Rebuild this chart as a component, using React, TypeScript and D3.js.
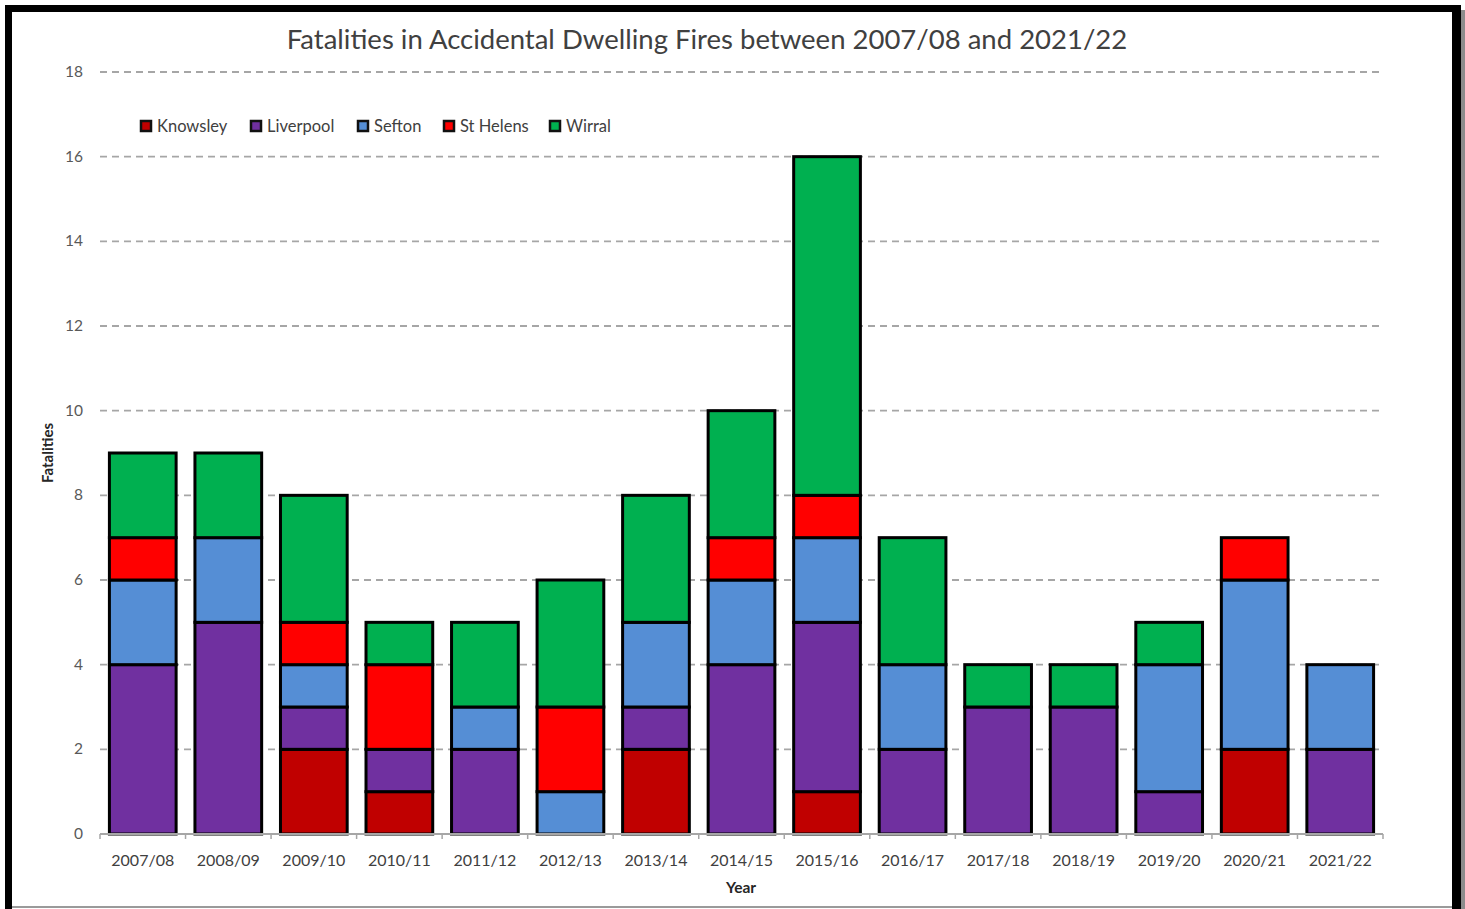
import React, { useEffect, useRef } from 'react';
import * as d3 from 'd3';

const years = ['2007/08', '2008/09', '2009/10', '2010/11', '2011/12', '2012/13', '2013/14', '2014/15', '2015/16', '2016/17', '2017/18', '2018/19', '2019/20', '2020/21', '2021/22'];

const knowsley = [0, 0, 2, 1, 0, 0, 2, 0, 1, 0, 0, 0, 0, 2, 0];
const liverpool = [4, 5, 1, 1, 2, 0, 1, 4, 4, 2, 3, 3, 1, 0, 2];
const sefton = [2, 2, 1, 0, 1, 1, 2, 2, 2, 2, 0, 0, 3, 4, 2];
const stHelens = [1, 0, 1, 2, 0, 2, 0, 1, 1, 0, 0, 0, 0, 1, 0];
const wirral = [2, 2, 3, 1, 2, 3, 3, 3, 8, 3, 1, 1, 1, 0, 0];

const seriesNames = ['Knowsley', 'Liverpool', 'Sefton', 'St Helens', 'Wirral'];
const seriesColors = ['#C00000', '#7030A0', '#558ED5', '#FF0000', '#00B050'];
const yTicks = [0, 2, 4, 6, 8, 10, 12, 14, 16, 18];

const W = 1465;
const H = 909;
const FONT = 'Lato, "Open Sans", sans-serif';

const App: React.FC = () => {
  const svgRef = useRef<SVGSVGElement>(null);

  useEffect(() => {
    if (!svgRef.current) return;
    const svg = d3.select(svgRef.current);
    svg.selectAll('*').remove();

    const left = 100, right = 1383, top = 72, bottom = 834;

    const x = d3.scaleBand<string>().domain(years).range([left, right]).paddingInner(0.22).paddingOuter(0.11);
    const y = d3.scaleLinear().domain([0, 18]).range([bottom, top]);

    // frame
    svg.append('rect').attr('x', 0).attr('y', 0).attr('width', W).attr('height', H).attr('fill', '#fff');
    svg.append('rect').attr('x', 1460).attr('y', 10).attr('width', 5).attr('height', H).attr('fill', '#8c8c8c');
    svg.append('line').attr('x1', 12).attr('x2', 1452).attr('y1', 907).attr('y2', 907).attr('stroke', '#9a9a9a').attr('stroke-width', 2);
    svg.append('rect').attr('x', 5).attr('y', 5).attr('width', 7).attr('height', H).attr('fill', '#000');
    svg.append('rect').attr('x', 5).attr('y', 5).attr('width', 1456).attr('height', 7).attr('fill', '#000');
    svg.append('rect').attr('x', 1452).attr('y', 5).attr('width', 9).attr('height', H).attr('fill', '#000');

    // title
    svg.append('text')
      .attr('x', 707).attr('y', 49)
      .attr('text-anchor', 'middle')
      .style('font-family', FONT).style('font-size', '27.5px').style('fill', '#404040')
      .text('Fatalities in Accidental Dwelling Fires between 2007/08 and 2021/22');

    // gridlines
    svg.append('g').selectAll('line')
      .data(yTicks.filter(t => t > 0))
      .enter().append('line')
      .attr('x1', left).attr('x2', right)
      .attr('y1', d => y(d)).attr('y2', d => y(d))
      .attr('stroke', '#a6a6a6').attr('stroke-width', 1.8).attr('stroke-dasharray', '7,5');

    // y tick labels
    svg.append('g').selectAll('text')
      .data(yTicks)
      .enter().append('text')
      .attr('x', 83).attr('y', d => y(d) + 5)
      .attr('text-anchor', 'end')
      .style('font-family', FONT).style('font-size', '15.5px').style('fill', '#595959')
      .text(d => d);

    // stacked bars
    const table = years.map((yr, i) => ({
      year: yr,
      Knowsley: knowsley[i],
      Liverpool: liverpool[i],
      Sefton: sefton[i],
      'St Helens': stHelens[i],
      Wirral: wirral[i],
    }));
    const stack = d3.stack<any>().keys(seriesNames)(table);

    const layers = svg.append('g').selectAll('g')
      .data(stack)
      .enter().append('g')
      .attr('fill', (_d, i) => seriesColors[i]);

    layers.selectAll('rect')
      .data(d => d.filter(s => s[1] - s[0] > 0))
      .enter().append('rect')
      .attr('x', (d: any) => x(d.data.year)!)
      .attr('width', x.bandwidth())
      .attr('y', d => y(d[1]))
      .attr('height', d => y(d[0]) - y(d[1]))
      .attr('stroke', '#000').attr('stroke-width', 3);

    // x axis line and ticks
    svg.append('line').attr('x1', left).attr('x2', right).attr('y1', bottom).attr('y2', bottom)
      .attr('stroke', '#a6a6a6').attr('stroke-width', 2);
    const step = x.step();
    svg.append('g').selectAll('line')
      .data(d3.range(years.length + 1))
      .enter().append('line')
      .attr('x1', i => left + i * step).attr('x2', i => left + i * step)
      .attr('y1', bottom).attr('y2', bottom + 5)
      .attr('stroke', '#a6a6a6').attr('stroke-width', 1.5);

    svg.append('g').selectAll('text')
      .data(years)
      .enter().append('text')
      .attr('x', d => x(d)! + x.bandwidth() / 2).attr('y', 866)
      .attr('text-anchor', 'middle')
      .style('font-family', FONT).style('font-size', '16px').style('fill', '#404040')
      .text(d => d);

    // axis titles
    svg.append('text')
      .attr('x', 741).attr('y', 893)
      .attr('text-anchor', 'middle')
      .style('font-family', FONT).style('font-size', '15.5px').style('font-weight', 'bold').style('fill', '#262626')
      .text('Year');

    svg.append('text')
      .attr('transform', 'translate(53, 453) rotate(-90)')
      .attr('text-anchor', 'middle')
      .style('font-family', FONT).style('font-size', '15px').style('font-weight', 'bold').style('fill', '#262626')
      .text('Fatalities');

    // legend
    const legendX = [140, 250, 357, 443, 549];
    const legend = svg.append('g').selectAll('g')
      .data(seriesNames)
      .enter().append('g')
      .attr('transform', (_d, i) => `translate(${legendX[i]}, 126)`);
    legend.append('rect')
      .attr('x', 1).attr('y', -5).attr('width', 10).attr('height', 10)
      .attr('fill', (_d, i) => seriesColors[i])
      .attr('stroke', '#111').attr('stroke-width', 2.5);
    legend.append('text')
      .attr('x', 17).attr('y', 6)
      .style('font-family', FONT).style('font-size', '16.5px').style('fill', '#404040')
      .text(d => d);
  }, []);

  return (
    <div style={{ position: 'absolute', left: 0, top: 0 }}>
      <svg ref={svgRef} width={W} height={H} style={{ display: 'block' }} />
    </div>
  );
};

export default App;
